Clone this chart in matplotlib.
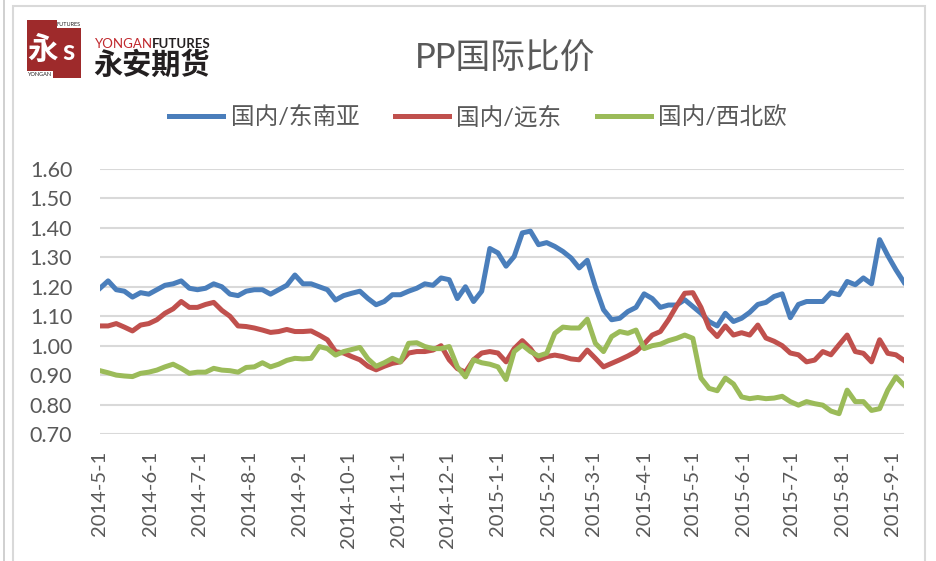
import matplotlib
matplotlib.use("Agg")
import matplotlib.pyplot as plt
import pandas as pd
from matplotlib.patches import Rectangle

plt.rcParams['font.family'] = ['Lato', 'Noto Sans CJK SC', 'DejaVu Sans']

# samples every 5 days from 2014-05-01
dates = pd.date_range('2014-05-01', periods=100, freq='5D')

sea = [1.195, 1.22, 1.19, 1.185, 1.165, 1.18, 1.175, 1.19, 1.205, 1.21,
       1.22, 1.195, 1.19, 1.195, 1.21, 1.20, 1.175, 1.17, 1.185, 1.19,
       1.19, 1.175, 1.19, 1.205, 1.24, 1.21, 1.21, 1.20, 1.19, 1.155,
       1.17, 1.178, 1.185, 1.16, 1.139, 1.15, 1.173, 1.173, 1.185, 1.195,
       1.21, 1.205, 1.23, 1.224, 1.16, 1.20, 1.15, 1.185, 1.33, 1.315,
       1.27, 1.303, 1.383, 1.389, 1.343, 1.35, 1.337, 1.32, 1.298, 1.264,
       1.29, 1.20, 1.122, 1.088, 1.093, 1.116, 1.13, 1.176, 1.16, 1.13,
       1.138, 1.138, 1.156, 1.133, 1.11, 1.082, 1.067, 1.11, 1.082, 1.093,
       1.113, 1.14, 1.147, 1.167, 1.176, 1.095, 1.14, 1.15, 1.15, 1.15,
       1.18, 1.173, 1.218, 1.207, 1.23, 1.21, 1.36, 1.306, 1.258, 1.215]

fe = [1.067, 1.067, 1.075, 1.063, 1.05, 1.07, 1.075, 1.088, 1.11, 1.125,
      1.15, 1.13, 1.13, 1.14, 1.147, 1.12, 1.10, 1.067, 1.065, 1.06,
      1.053, 1.045, 1.048, 1.055, 1.048, 1.048, 1.05, 1.036, 1.02, 0.98,
      0.975, 0.963, 0.952, 0.93, 0.918, 0.93, 0.94, 0.945, 0.975, 0.98,
      0.98, 0.985, 1.00, 0.952, 0.922, 0.91, 0.952, 0.975, 0.98, 0.975,
      0.945, 0.99, 1.017, 0.99, 0.952, 0.963, 0.968, 0.963, 0.955, 0.952,
      0.985, 0.957, 0.928, 0.94, 0.952, 0.965, 0.98, 1.006, 1.036, 1.048,
      1.088, 1.135, 1.178, 1.18, 1.13, 1.06, 1.031, 1.067, 1.036, 1.044,
      1.036, 1.07, 1.026, 1.015, 1.00, 0.975, 0.969, 0.945, 0.951, 0.98,
      0.969, 1.003, 1.036, 0.98, 0.974, 0.945, 1.02, 0.974, 0.969, 0.95]

nwe = [0.915, 0.908, 0.90, 0.897, 0.895, 0.906, 0.91, 0.917, 0.928, 0.937,
       0.923, 0.906, 0.91, 0.91, 0.923, 0.917, 0.915, 0.91, 0.926, 0.928,
       0.942, 0.928, 0.937, 0.95, 0.957, 0.955, 0.957, 0.997, 0.99, 0.968,
       0.98, 0.987, 0.994, 0.955, 0.93, 0.942, 0.957, 0.945, 1.008, 1.01,
       0.997, 0.99, 0.99, 0.997, 0.928, 0.894, 0.952, 0.942, 0.937, 0.928,
       0.885, 0.98, 1.002, 0.98, 0.965, 0.974, 1.042, 1.063, 1.06, 1.06,
       1.09, 1.008, 0.98, 1.031, 1.048, 1.042, 1.053, 0.99, 1.00, 1.005,
       1.017, 1.025, 1.036, 1.025, 0.89, 0.855, 0.847, 0.89, 0.87, 0.826,
       0.82, 0.824, 0.82, 0.822, 0.828, 0.81, 0.798, 0.81, 0.803, 0.798,
       0.778, 0.769, 0.849, 0.81, 0.81, 0.78, 0.786, 0.849, 0.894, 0.866]

series_names = ['国内/东南亚', '国内/远东', '国内/西北欧']
colors = ['#4A7EBB', '#C0504D', '#9BBB59']

month_labels = ['2014-5-1', '2014-6-1', '2014-7-1', '2014-8-1', '2014-9-1',
                '2014-10-1', '2014-11-1', '2014-12-1', '2015-1-1', '2015-2-1',
                '2015-3-1', '2015-4-1', '2015-5-1', '2015-6-1', '2015-7-1',
                '2015-8-1', '2015-9-1']
y_ticks = [0.70, 0.80, 0.90, 1.00, 1.10, 1.20, 1.30, 1.40, 1.50, 1.60]

W, H = 936, 561
fig = plt.figure(figsize=(W / 100, H / 100), dpi=100)

# chart frame
fig.add_artist(Rectangle((13 / W, -0.05), 912 / W, 1.05 - 6 / H, transform=fig.transFigure,
                         fill=False, edgecolor='#D9D9D9', lw=1.5))
fig.add_artist(plt.Line2D([4 / W, 4 / W], [0, 1], transform=fig.transFigure,
                          color='#C8C8C8', lw=1.2))

ax = fig.add_axes([100 / W, 1 - 434 / H, 804 / W, 265 / H])
for name, vals, c in zip(series_names, [sea, fe, nwe], colors):
    ax.plot(dates, vals, color=c, lw=3.6, label=name, solid_joinstyle='round')

ax.set_ylim(0.70, 1.60)
ax.set_xlim(dates[0], dates[-1])
ax.set_yticks(y_ticks)
ax.set_yticklabels(['%.2f' % v for v in y_ticks])
ax.set_xticks(pd.to_datetime(month_labels))
ax.set_xticklabels(month_labels, rotation=90)
ax.grid(axis='y', color='#D9D9D9', lw=1.5)
ax.set_axisbelow(True)
for s in ax.spines.values():
    s.set_visible(False)
ax.tick_params(axis='both', length=0, labelcolor='#595959')
ax.tick_params(axis='y', pad=20, labelsize=15.5)
ax.tick_params(axis='x', pad=12, labelsize=14.5)

fig.text(505 / W, 1 - 58 / H, 'PP国际比价', ha='center', va='center',
         fontsize=25, color='#595959')

fig.legend(loc='center', bbox_to_anchor=(478 / W, 1 - 117 / H), ncol=3, frameon=False,
           fontsize=17, handlelength=2.3, handletextpad=0.3, columnspacing=1.5,
           labelcolor='#595959')

# logo
fig.add_artist(Rectangle((27 / W, 1 - 78 / H), 54 / W, 58 / H, transform=fig.transFigure,
                         facecolor='#9E2A2B', edgecolor='none'))
fig.add_artist(Rectangle((57 / W, 1 - 28 / H), 24 / W, 8 / H, transform=fig.transFigure,
                         facecolor='white', edgecolor='none'))
fig.add_artist(Rectangle((27 / W, 1 - 78 / H), 26 / W, 7 / H, transform=fig.transFigure,
                         facecolor='white', edgecolor='none'))
fig.text(69 / W, 1 - 24 / H, 'FUTURES', color='#231F20', fontsize=4, ha='center', va='center')
fig.text(40 / W, 1 - 75 / H, 'YONGAN', color='#231F20', fontsize=4, ha='center', va='center')
fig.text(42 / W, 1 - 49 / H, '永', color='white', fontsize=22, ha='center', va='center',
         fontweight='bold')
fig.text(68 / W, 1 - 52 / H, 's', color='white', fontsize=20, ha='center', va='center',
         fontweight='bold')
fig.text(95 / W, 1 - 44 / H, 'YONGAN', color='#C0282D', fontsize=9.5, ha='left', va='center')
fig.text(152 / W, 1 - 44 / H, 'FUTURES', color='#231F20', fontsize=9.5, ha='left', va='center',
         fontweight='bold')
fig.text(93 / W, 1 - 65 / H, '永安期货', color='#231F20', fontsize=21, ha='left', va='center',
         fontweight='bold')

fig.savefig('out.png', dpi=100)
